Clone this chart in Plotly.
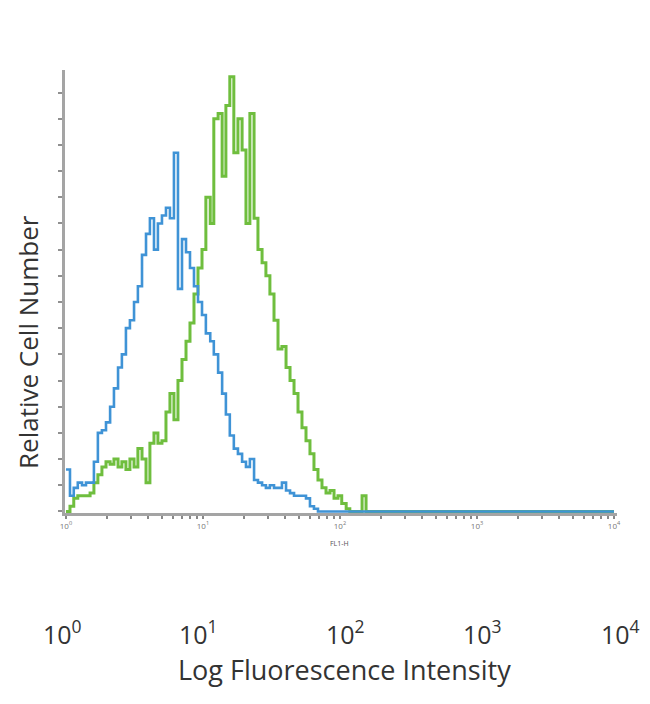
import plotly.graph_objects as go

# Fluorescence channel (intensity) values shared by both histograms
intensity = [1.00, 1.07, 1.14, 1.22, 1.31, 1.40, 1.50, 1.60, 1.71, 1.83,
             1.96, 2.10, 2.24, 2.40, 2.56, 2.74, 2.93, 3.14, 3.35, 3.59,
             3.84, 4.10, 4.39, 4.69, 5.02, 5.37, 5.74, 6.14, 6.57, 7.03,
             7.52, 8.04, 8.60, 9.20, 9.84, 10.5, 11.3, 12.0, 12.9, 13.8,
             14.7, 15.7, 16.8, 18.0, 19.3, 20.6, 22.0, 23.6, 25.2, 27.0,
             28.8, 30.8, 33.0, 35.3, 37.7, 40.4, 43.2, 46.2, 49.4, 52.8,
             56.5, 60.4, 64.6, 69.1, 73.9, 79.1, 84.6, 90.5, 96.7, 103,
             111, 118, 127, 135, 145, 155, 166, 10000]

isotype_counts = [16, 6, 9, 11, 10, 11, 11, 19, 30, 31,
                  34, 40, 47, 55, 60, 70, 73, 80, 86, 98,
                  106, 112, 100, 110, 113, 116, 112, 137, 85, 104,
                  99, 93, 86, 80, 75, 68, 65, 60, 53, 45,
                  37, 29, 24, 22, 19, 17, 20, 12, 11, 10,
                  9, 10, 9, 9, 11, 8, 7, 6, 6, 6,
                  5, 2, 1, 0, 0, 0, 0, 0, 0, 0,
                  0, 0, 0, 0, 0, 0, 0, 0]

stained_counts = [0, 2, 5, 6, 6, 6, 7, 11, 14, 17,
                  19, 18, 20, 17, 19, 16, 20, 17, 24, 20,
                  11, 26, 30, 26, 27, 38, 45, 35, 50, 58,
                  65, 72, 83, 93, 100, 120, 110, 150, 152, 128,
                  155, 166, 137, 150, 138, 110, 152, 112, 100, 95,
                  90, 83, 73, 62, 63, 55, 50, 45, 38, 32,
                  27, 22, 16, 12, 9, 7, 8, 5, 6, 3,
                  1, 0, 0, 0, 6, 0, 0, 0]

major_ticks = [1, 10, 100, 1000, 10000]
major_labels = ["10<sup>0</sup>", "10<sup>1</sup>", "10<sup>2</sup>",
                "10<sup>3</sup>", "10<sup>4</sup>"]
minor_ticks = [m * 10 ** d for d in range(4) for m in range(2, 10)]
y_ticks = list(range(0, 170, 10))

GREEN = "#6fbe3e"
BLUE = "#3f93d6"
AXIS = "#a4a4a4"
TXT = "#333333"

fig = go.Figure()
fig.add_trace(go.Scatter(x=intensity, y=stained_counts, mode="lines",
                         line=dict(color=GREEN, width=3, shape="hv"),
                         showlegend=False))
fig.add_trace(go.Scatter(x=intensity, y=isotype_counts, mode="lines",
                         line=dict(color=BLUE, width=2.6, shape="hv"),
                         showlegend=False))

fig.update_layout(
    width=642, height=696,
    margin=dict(l=57, r=33, t=62, b=191),
    paper_bgcolor="white", plot_bgcolor="white",
    font=dict(family="Open Sans", color=TXT),
    xaxis=dict(type="log", range=[-0.007, 4.022], tickvals=major_ticks,
               ticktext=major_labels, ticks="outside", ticklen=3, tickwidth=1.5,
               tickcolor="#888888", tickfont=dict(size=8, color="#777777"),
               minor=dict(tickvals=minor_ticks, ticks="outside", ticklen=3,
                          tickwidth=1.5, tickcolor="#888888", showgrid=False),
               showline=True, linecolor=AXIS, linewidth=3, showgrid=False,
               zeroline=False, layer="below traces"),
    yaxis=dict(range=[-0.6, 168.6], tickvals=y_ticks, showticklabels=False,
               ticks="outside", ticklen=4,
               tickwidth=2, tickcolor="#909090", showline=True,
               linecolor=AXIS, linewidth=3, showgrid=False, zeroline=False,
               layer="below traces"),
)

# small instrument axis label
fig.add_annotation(x=2, y=0, xref="x", yref="y", text="FL1-H",
                   showarrow=False, yshift=-32, font=dict(size=7, color="#555555"))

# large decade labels
shifts = [-3, -4, 6, 6, 7]
for val, lab, sh in zip([0, 1, 2, 3, 4], major_labels, shifts):
    fig.add_annotation(x=val, y=-0.269, xref="x", yref="paper", text=lab,
                       showarrow=False, xshift=sh, yanchor="middle",
                       font=dict(size=25, color=TXT))

fig.add_annotation(x=0.507, y=-0.354, xref="paper", yref="paper",
                   text="Log Fluorescence Intensity", showarrow=False,
                   yanchor="middle", font=dict(size=27, color=TXT))
fig.add_annotation(x=-0.1015, y=0.386, xref="paper", yref="paper",
                   text="Relative Cell Number", showarrow=False, textangle=-90,
                   xanchor="left", yanchor="middle", borderpad=0,
                   font=dict(size=26, color=TXT))

fig.write_html("out.html")
